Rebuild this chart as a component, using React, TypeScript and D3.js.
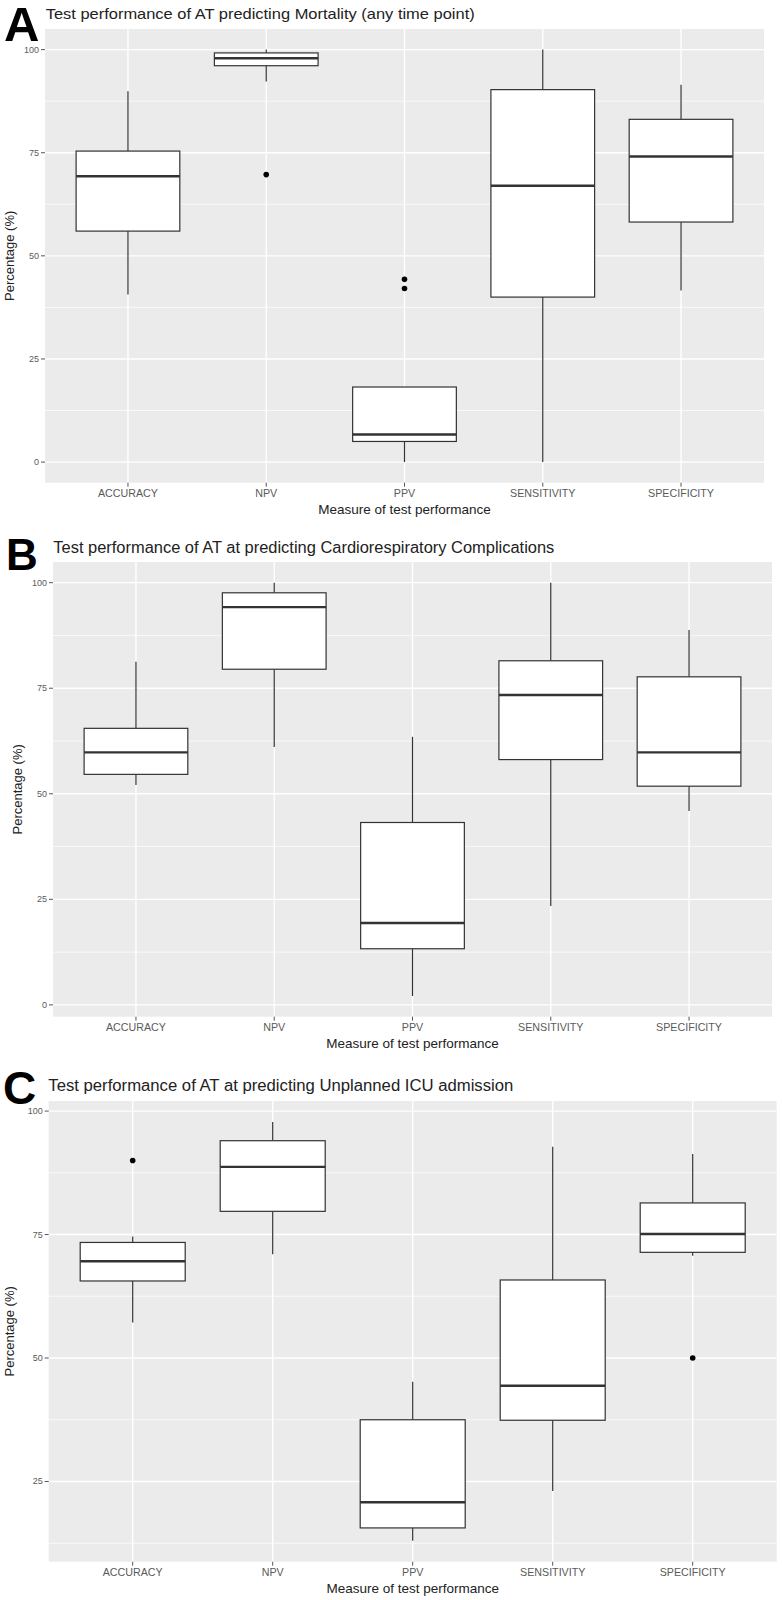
import React from "react";
import * as d3 from "d3";

// ---------- data ----------
const categories = ["ACCURACY", "NPV", "PPV", "SENSITIVITY", "SPECIFICITY"];

// Panel A: Mortality (any time point)
const A_lower = [40.6, 92.3, 0, 0, 41.6];
const A_q1 = [56.0, 96.1, 5.0, 40.0, 58.2];
const A_median = [69.3, 97.9, 6.7, 67.0, 74.1];
const A_q3 = [75.4, 99.2, 18.2, 90.3, 83.1];
const A_upper = [89.9, 100, 18.2, 100, 91.5];
const A_outCat = ["NPV", "PPV", "PPV"];
const A_outVal = [69.7, 44.3, 42.1];

// Panel B: Cardiorespiratory Complications
const B_lower = [52.1, 61.1, 2.1, 23.4, 45.9];
const B_q1 = [54.6, 79.5, 13.3, 58.1, 51.8];
const B_median = [59.8, 94.2, 19.4, 73.4, 59.8];
const B_q3 = [65.5, 97.6, 43.2, 81.5, 77.7];
const B_upper = [81.3, 100, 63.5, 100, 88.8];
const B_outCat: string[] = [];
const B_outVal: number[] = [];

// Panel C: Unplanned ICU admission
const C_lower = [57.2, 71.0, 13.0, 23.1, 70.7];
const C_q1 = [65.6, 79.7, 15.6, 37.4, 71.4];
const C_median = [69.6, 88.7, 20.8, 44.4, 75.1];
const C_q3 = [73.4, 94.0, 37.5, 65.8, 81.4];
const C_upper = [74.6, 97.8, 45.2, 92.8, 91.3];
const C_outCat = ["ACCURACY", "SPECIFICITY"];
const C_outVal = [90, 50];

const majorTicks = [0, 25, 50, 75, 100];
const minorTicks = [12.5, 37.5, 62.5, 87.5];

const titles = [
  "Test performance of AT predicting Mortality (any time point)",
  "Test performance of AT at predicting Cardiorespiratory Complications",
  "Test performance of AT at predicting Unplanned ICU admission",
];
const letters = ["A", "B", "C"];
const xTitle = "Measure of test performance";
const yTitle = "Percentage (%)";

// ---------- layout ----------
const layouts = [
  { left: 45, right: 764, top: 29, bottom: 482.7, titleX: 45.7, titleY: 19, titleSize: 15, titleLen: 429, letterX: 4, letterY: 40.7, letterSize: 49, yTitleX: 14 },
  { left: 53, right: 772, top: 562, bottom: 1016.7, titleX: 53.3, titleY: 552.7, titleSize: 16, titleLen: 501, letterX: 6, letterY: 570, letterSize: 44, yTitleX: 22 },
  { left: 48.7, right: 776.7, top: 1101, bottom: 1561.7, titleX: 48.3, titleY: 1090.7, titleSize: 16, titleLen: 465, letterX: 3, letterY: 1104, letterSize: 46, yTitleX: 14 },
];

const FONT = "'Liberation Sans', Arial, Helvetica, sans-serif";

type PanelData = {
  lower: number[]; q1: number[]; median: number[]; q3: number[]; upper: number[];
  outCat: string[]; outVal: number[];
};

const panels: PanelData[] = [
  { lower: A_lower, q1: A_q1, median: A_median, q3: A_q3, upper: A_upper, outCat: A_outCat, outVal: A_outVal },
  { lower: B_lower, q1: B_q1, median: B_median, q3: B_q3, upper: B_upper, outCat: B_outCat, outVal: B_outVal },
  { lower: C_lower, q1: C_q1, median: C_median, q3: C_q3, upper: C_upper, outCat: C_outCat, outVal: C_outVal },
];

function Panel({ data, L, idx }: { data: PanelData; L: any; idx: number }) {
  const all = [...data.lower, ...data.upper, ...data.outVal];
  const mn = d3.min(all) as number;
  const mx = d3.max(all) as number;
  const pad = (mx - mn) * 0.05;
  const y = d3.scaleLinear().domain([mn - pad, mx + pad]).range([L.bottom, L.top]);
  const x = d3
    .scalePoint<string>()
    .domain(categories)
    .range([L.left, L.right])
    .padding(0.6);
  const step = x.step();
  const bw = step * 0.75;
  const inDom = (v: number) => v >= mn - pad && v <= mx + pad;
  const stroke = "#333333";
  const cy = (L.top + L.bottom) / 2;
  const cx = (L.left + L.right) / 2;

  return (
    <g>
      <text x={L.letterX} y={L.letterY} fontFamily={FONT} fontWeight="bold" fontSize={L.letterSize} fill="#000">
        {letters[idx]}
      </text>
      <text x={L.titleX} y={L.titleY} fontFamily={FONT} fontSize={L.titleSize} fill="#222" textLength={L.titleLen} lengthAdjust="spacingAndGlyphs">
        {titles[idx]}
      </text>
      <rect x={L.left} y={L.top} width={L.right - L.left} height={L.bottom - L.top} fill="#EBEBEB" />
      {minorTicks.filter(inDom).map((t) => (
        <line key={"mi" + t} x1={L.left} x2={L.right} y1={y(t)} y2={y(t)} stroke="#fff" strokeWidth={0.7} />
      ))}
      {majorTicks.filter(inDom).map((t) => (
        <line key={"ma" + t} x1={L.left} x2={L.right} y1={y(t)} y2={y(t)} stroke="#fff" strokeWidth={1.4} />
      ))}
      {categories.map((c) => (
        <line key={"vg" + c} x1={x(c)} x2={x(c)} y1={L.top} y2={L.bottom} stroke="#fff" strokeWidth={1.4} />
      ))}
      {categories.map((c, i) => {
        const cxx = x(c) as number;
        return (
          <g key={"box" + c}>
            <line x1={cxx} x2={cxx} y1={y(data.upper[i])} y2={y(data.q3[i])} stroke={stroke} strokeWidth={1.2} />
            <line x1={cxx} x2={cxx} y1={y(data.q1[i])} y2={y(data.lower[i])} stroke={stroke} strokeWidth={1.2} />
            <rect x={cxx - bw / 2} y={y(data.q3[i])} width={bw} height={y(data.q1[i]) - y(data.q3[i])} fill="#fff" stroke={stroke} strokeWidth={1.2} />
            <line x1={cxx - bw / 2} x2={cxx + bw / 2} y1={y(data.median[i])} y2={y(data.median[i])} stroke={stroke} strokeWidth={2.4} />
          </g>
        );
      })}
      {data.outVal.map((v, i) => (
        <circle key={"o" + i} cx={x(data.outCat[i])} cy={y(v)} r={2.8} fill="#000" />
      ))}
      {/* y axis */}
      {majorTicks.filter(inDom).map((t) => (
        <g key={"yt" + t}>
          <line x1={L.left - 4} x2={L.left} y1={y(t)} y2={y(t)} stroke="#555" strokeWidth={1} />
          <text x={L.left - 6} y={y(t)} dy="0.33em" textAnchor="end" fontFamily={FONT} fontSize={9} fill="#5a5a5a">
            {t}
          </text>
        </g>
      ))}
      {/* x axis */}
      {categories.map((c) => (
        <g key={"xt" + c}>
          <line x1={x(c)} x2={x(c)} y1={L.bottom} y2={L.bottom + 4} stroke="#555" strokeWidth={1} />
          <text x={x(c)} y={L.bottom + 14.5} textAnchor="middle" fontFamily={FONT} fontSize={10.7} fill="#5a5a5a">
            {c}
          </text>
        </g>
      ))}
      <text x={cx} y={L.bottom + 31} textAnchor="middle" fontFamily={FONT} fontSize={13.5} fill="#222">
        {xTitle}
      </text>
      <text transform={`translate(${L.yTitleX},${cy}) rotate(-90)`} textAnchor="middle" fontFamily={FONT} fontSize={13} fill="#222">
        {yTitle}
      </text>
    </g>
  );
}

export default function App() {
  return (
    <svg width={782} height={1600} style={{ position: "absolute", left: 0, top: 0, background: "#fff" }}>
      <rect x={0} y={0} width={782} height={1600} fill="#fff" />
      {panels.map((p, i) => (
        <Panel key={i} data={p} L={layouts[i]} idx={i} />
      ))}
    </svg>
  );
}
